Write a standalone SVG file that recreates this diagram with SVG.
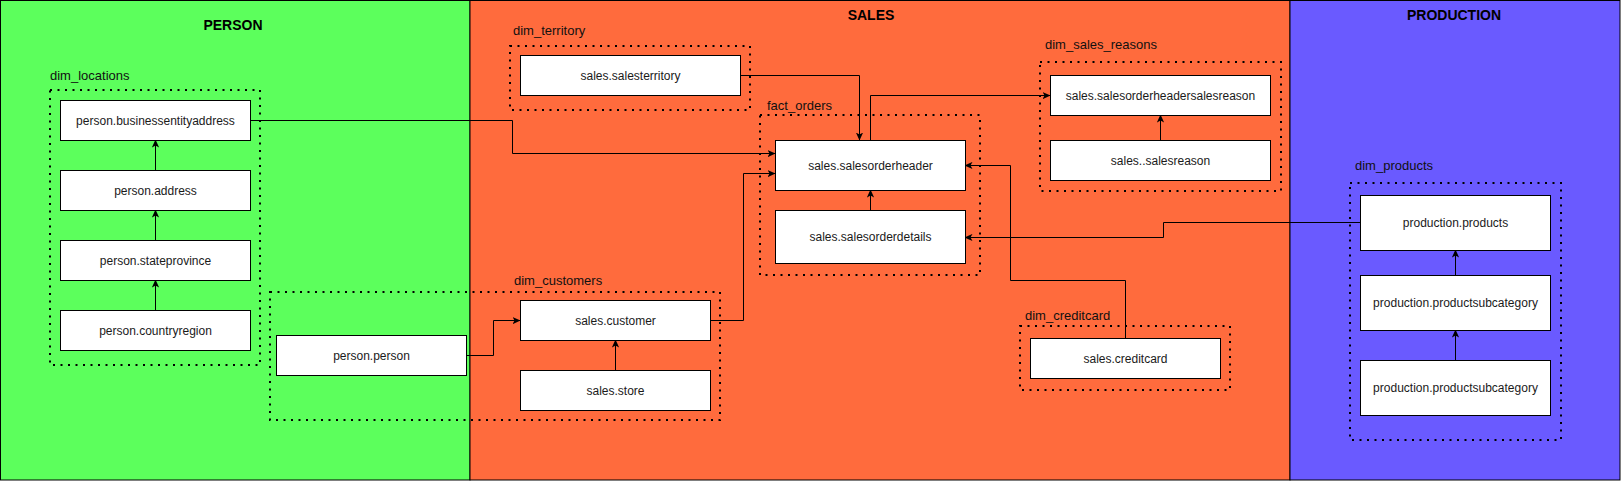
<svg xmlns="http://www.w3.org/2000/svg" width="1621" height="481" viewBox="0 0 1621 481">
<defs>
<style>
.panel{stroke:#000;stroke-width:1}
.title{font-family:"Liberation Sans",Arial,Helvetica,sans-serif;font-size:14px;font-weight:bold;fill:#000;text-anchor:middle}
.grp{fill:none;stroke:#000;stroke-width:2;stroke-dasharray:2 5.5}
.glabel{font-family:"Liberation Sans",Arial,Helvetica,sans-serif;font-size:13px;fill:#111}
.node rect{fill:#fff;stroke:#000;stroke-width:1}
.node text{font-family:"Liberation Sans",Arial,Helvetica,sans-serif;font-size:12px;fill:#1a1a1a;text-anchor:middle}
.conn path{fill:none;stroke:#000;stroke-width:1;marker-end:url(#arr)}
</style>
<marker id="arr" viewBox="0 0 8 8" refX="7.5" refY="4" markerWidth="8" markerHeight="8" markerUnits="userSpaceOnUse" orient="auto">
<path d="M0,0.4 L8,4 L0,7.6 L2,4 Z" fill="#000"/>
</marker>
</defs>

<g id="panels">
<rect class="panel" x="0.5" y="0.5" width="469.5" height="479.5" fill="#5CFF5C"/>
<rect class="panel" x="470" y="0.5" width="820" height="479.5" fill="#FF6B3D"/>
<rect class="panel" x="1290" y="0.5" width="330" height="479.5" fill="#6A5AFF"/>
<text class="title" x="233" y="30">PERSON</text>
<text class="title" x="871" y="20">SALES</text>
<text class="title" x="1454" y="20">PRODUCTION</text>
</g>

<g id="groups">
<g id="dim_locations"><rect class="grp" x="50" y="90" width="210" height="275"/><text class="glabel" x="50" y="79.5">dim_locations</text></g>
<g id="dim_customers"><rect class="grp" x="270" y="292" width="450" height="128"/><text class="glabel" x="514" y="284.5">dim_customers</text></g>
<g id="dim_territory"><rect class="grp" x="510" y="46" width="240" height="64"/><text class="glabel" x="513" y="34.5">dim_territory</text></g>
<g id="fact_orders"><rect class="grp" x="760" y="115" width="220" height="160"/><text class="glabel" x="767" y="109.5">fact_orders</text></g>
<g id="dim_sales_reasons"><rect class="grp" x="1040" y="62" width="241" height="129"/><text class="glabel" x="1045" y="48.5">dim_sales_reasons</text></g>
<g id="dim_creditcard"><rect class="grp" x="1020" y="326" width="210" height="64"/><text class="glabel" x="1025" y="319.5">dim_creditcard</text></g>
<g id="dim_products"><rect class="grp" x="1350" y="183" width="211" height="257"/><text class="glabel" x="1355" y="169.5">dim_products</text></g>
</g>

<g id="connectors" class="conn">
<path d="M250,120.5 H512.5 V153.5 H775"/>
<path d="M710,320.5 H743.5 V173.5 H775"/>
<path d="M466,355.5 H493.5 V320.5 H520"/>
<path d="M740,75.5 H859.5 V140"/>
<path d="M870.5,140 V95.5 H1050"/>
<path d="M1125.5,338 V280.5 H1010.5 V165.5 H965"/>
<path d="M1360,222.5 H1163.5 V237.5 H965"/>
<path d="M155.5,170 V140"/>
<path d="M155.5,240 V210"/>
<path d="M155.5,310 V280"/>
<path d="M615.5,370 V340"/>
<path d="M870.5,210 V190"/>
<path d="M1160.5,140 V115"/>
<path d="M1455.5,275 V250"/>
<path d="M1455.5,360 V330"/>
</g>

<g id="n_bea" class="node"><rect x="60.5" y="100.5" width="190" height="40"/><text x="155.5" y="124.5">person.businessentityaddress</text></g>
<g id="n_address" class="node"><rect x="60.5" y="170.5" width="190" height="40"/><text x="155.5" y="194.5">person.address</text></g>
<g id="n_stateprovince" class="node"><rect x="60.5" y="240.5" width="190" height="40"/><text x="155.5" y="264.5">person.stateprovince</text></g>
<g id="n_countryregion" class="node"><rect x="60.5" y="310.5" width="190" height="40"/><text x="155.5" y="334.5">person.countryregion</text></g>
<g id="n_person" class="node"><rect x="276.5" y="335.5" width="190" height="40"/><text x="371.5" y="359.5">person.person</text></g>
<g id="n_customer" class="node"><rect x="520.5" y="300.5" width="190" height="40"/><text x="615.5" y="324.5">sales.customer</text></g>
<g id="n_store" class="node"><rect x="520.5" y="370.5" width="190" height="40"/><text x="615.5" y="394.5">sales.store</text></g>
<g id="n_territory" class="node"><rect x="520.5" y="55.5" width="220" height="40"/><text x="630.5" y="79.5">sales.salesterritory</text></g>
<g id="n_header" class="node"><rect x="775.5" y="140.5" width="190" height="50"/><text x="870.5" y="169.5">sales.salesorderheader</text></g>
<g id="n_details" class="node"><rect x="775.5" y="210.5" width="190" height="53"/><text x="870.5" y="241">sales.salesorderdetails</text></g>
<g id="n_shsr" class="node"><rect x="1050.5" y="75.5" width="220" height="40"/><text x="1160.5" y="99.5">sales.salesorderheadersalesreason</text></g>
<g id="n_salesreason" class="node"><rect x="1050.5" y="140.5" width="220" height="40"/><text x="1160.5" y="164.5">sales..salesreason</text></g>
<g id="n_creditcard" class="node"><rect x="1030.5" y="338.5" width="190" height="40"/><text x="1125.5" y="362.5">sales.creditcard</text></g>
<g id="n_products" class="node"><rect x="1360.5" y="195.5" width="190" height="55"/><text x="1455.5" y="227">production.products</text></g>
<g id="n_subcat1" class="node"><rect x="1360.5" y="275.5" width="190" height="55"/><text x="1455.5" y="307">production.productsubcategory</text></g>
<g id="n_subcat2" class="node"><rect x="1360.5" y="360.5" width="190" height="55"/><text x="1455.5" y="392">production.productsubcategory</text></g>
</svg>
